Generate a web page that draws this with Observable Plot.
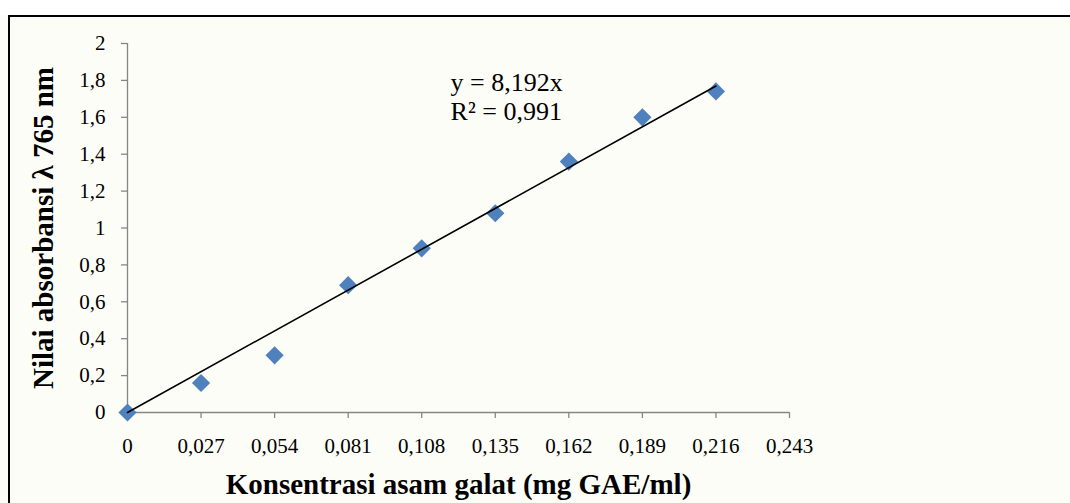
<!DOCTYPE html>
<html>
<head>
<meta charset="utf-8">
<script src="https://cdn.jsdelivr.net/npm/d3@7"></script>
<script src="https://cdn.jsdelivr.net/npm/@observablehq/plot@0.6"></script>
<style>
  html, body { margin: 0; padding: 0; background: #fdfdf7; }
  #wrap { position: relative; width: 1070px; height: 503px; overflow: hidden; }
  #border { position: absolute; left: 8px; top: 15px; right: -10px; bottom: -10px;
            border-left: 2px solid #000; border-top: 2px solid #000; pointer-events: none; }
  #top { position: absolute; left: 0; top: 0; width: 1070px; height: 15px; background: #fff; }
  #chart { position: absolute; left: 0; top: 0; }
  #chart svg, #chart text { font-family: 'Liberation Serif', 'Times New Roman', serif; }
</style>
</head>
<body>
<div id="wrap">
  <div id="top"></div>
  <div id="chart"></div>
  <div id="border"></div>
</div>
<script>
// Data
const concentrations = [0, 0.027, 0.054, 0.081, 0.108, 0.135, 0.162, 0.189, 0.216];
const absorbances   = [0, 0.16, 0.31, 0.69, 0.89, 1.08, 1.36, 1.60, 1.74];
const xTicks = [0, 0.027, 0.054, 0.081, 0.108, 0.135, 0.162, 0.189, 0.216, 0.243];
const yTicks = [0, 0.2, 0.4, 0.6, 0.8, 1, 1.2, 1.4, 1.6, 1.8, 2];
const slope = 8.192;
const r2 = 0.991;
const equationLines = ["y = 8,192x", "R² = 0,991"];
const xLabel = "Konsentrasi asam galat (mg GAE/ml)";
const yLabel = "Nilai absorbansi λ 765 nm";
const annotationPos = {x: 0.1186, y: 1.588};

const points = concentrations.map((c, i) => ({x: c, y: absorbances[i]}));
const xMax = d3.max(concentrations);
const trend = [{x: 0, y: 0}, {x: xMax, y: slope * xMax}];

const loc = d3.formatLocale({decimal: ",", thousands: ".", grouping: [3], currency: ["", ""]});
const fx = loc.format(".3~f");
const fy = loc.format(".1~f");

const font = "'Liberation Serif', 'Times New Roman', serif";
const axisColor = "#868686";

const chart = Plot.plot({
  width: 1070,
  height: 503,
  marginLeft: 127,
  marginRight: 281,
  marginTop: 43,
  marginBottom: 91,
  style: {background: "transparent", fontFamily: font, fontSize: "21px", color: "#000"},
  x: {domain: [0, 0.243]},
  y: {domain: [0, 2]},
  marks: [
    Plot.ruleX([0], {stroke: axisColor, strokeWidth: 1.3}),
    Plot.ruleY([0], {stroke: axisColor, strokeWidth: 1.3}),
    Plot.axisX({ticks: xTicks, tickFormat: fx, tickSize: 6, tickPadding: 20, stroke: axisColor, strokeWidth: 1.3, label: null, fontSize: 21, fill: "#000"}),
    Plot.axisY({ticks: yTicks, tickFormat: fy, tickSize: 6, tickPadding: 16, stroke: axisColor, strokeWidth: 1.3, label: null, fontSize: 21, fill: "#000"}),
    Plot.dot(points, {x: "x", y: "y", symbol: "diamond2", r: 8.2, fill: "#4f81bd", stroke: "none"}),
    Plot.line(trend, {x: "x", y: "y", stroke: "#000", strokeWidth: 1.6}),
    Plot.text([equationLines.join("\n")], {x: () => annotationPos.x, y: () => annotationPos.y, text: d => d, textAnchor: "start", lineAnchor: "bottom", lineHeight: 1.08, fontSize: 26, fill: "#000"}),
    Plot.text([xLabel], {frameAnchor: "bottom", text: d => d, textAnchor: "middle", dy: 81, fontSize: 29, fontWeight: "bold", fill: "#000"}),
    Plot.text([yLabel], {frameAnchor: "left", text: d => d, textAnchor: "middle", rotate: -90, dx: -84, fontSize: 29, fontWeight: "bold", fill: "#000"})
  ]
});
document.getElementById("chart").appendChild(chart);
</script>
</body>
</html>
